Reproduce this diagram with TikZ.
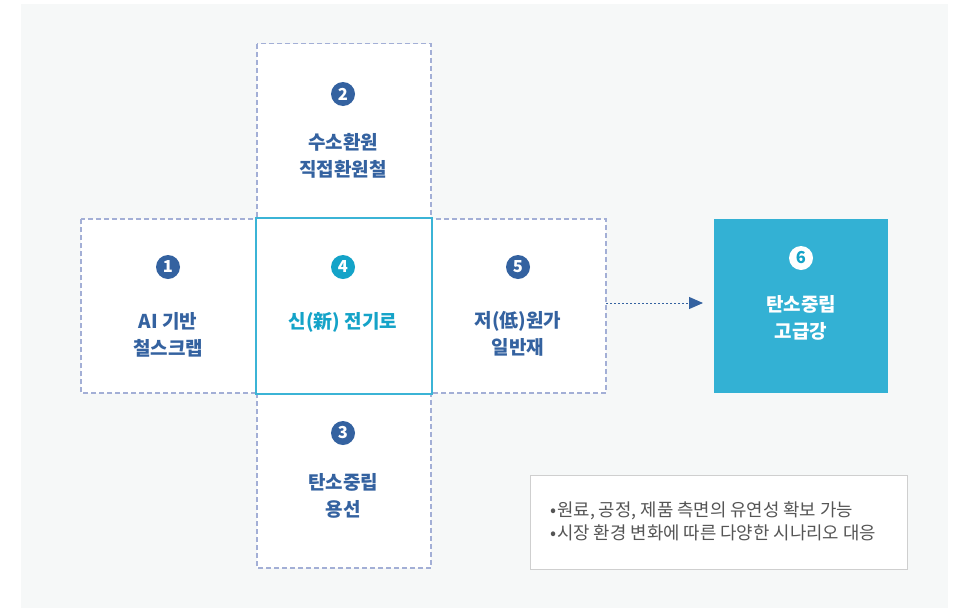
\documentclass[tikz,border=0pt]{standalone}
\usepackage{fontspec}
\setmainfont{Noto Sans CJK KR}
\usetikzlibrary{arrows.meta}
\definecolor{panel}{HTML}{F6F8F8}
\definecolor{dashc}{HTML}{A3AFD6}
\definecolor{navy}{HTML}{3462A0}
\definecolor{cyanline}{HTML}{3BB4D6}
\definecolor{cyantxt}{HTML}{14A3C8}
\definecolor{cyanfill}{HTML}{33B1D4}
\definecolor{notegray}{HTML}{555555}
\definecolor{noteline}{HTML}{CFCFCF}
\tikzset{
  dashbox/.style={draw=dashc, line width=1.1pt, dash pattern=on 5pt off 3pt, fill=white},
  numcirc/.style={circle, fill=navy, text=white, minimum size=24pt, inner sep=0pt, font=\fontsize{16.5}{16.5}\selectfont\bfseries},
  lbl/.style={text=navy, align=center, font=\fontsize{19}{27}\selectfont\bfseries},
}
\begin{document}
\begin{tikzpicture}[x=1pt,y=-1pt]
\useasboundingbox (0,0) rectangle (965,608);
\fill[panel] (21,4) rectangle (948,608);
% dashed boxes
\draw[dashbox] (81,219) rectangle (257,393);
\draw[dashbox] (257,43.5) rectangle (431,218);
\draw[dashbox] (257,393) rectangle (431,568);
\draw[dashbox] (431,219) rectangle (606,393);
\draw[draw=cyanline, line width=2pt, fill=white] (255.5,218) rectangle (432,393.5);
\fill[cyanfill] (714,219) rectangle (888,393);
% note box
\draw[draw=noteline, line width=1pt, fill=white] (530,475) rectangle (907,569);
% nodes
\node[numcirc] (c2) at (343,94) {2};
\node[lbl] (t2) at (343,156) {수소환원\\직접환원철};
\node[numcirc] (c1) at (168,267) {1};
\node[lbl] (t1) at (168,335) {AI 기반\\철스크랩};
\node[numcirc, fill=cyantxt] (c4) at (343,267) {4};
\node[lbl, text=cyantxt] (t4) at (343,322) {신(新) 전기로};
\node[numcirc] (c5) at (518,267) {5};
\node[lbl] (t5) at (518,334) {저(低)원가\\일반재};
\node[numcirc] (c3) at (343,433) {3};
\node[lbl] (t3) at (343,496) {탄소중립\\용선};
\node[numcirc, fill=white, text=cyantxt] (c6) at (801,258) {6};
\node[lbl, text=white] (t6) at (801,318) {탄소중립\\고급강};
\coordinate (b5) at (606,303);
\coordinate (b6) at (703,303);
\draw[navy, line width=1pt, dash pattern=on 2pt off 2pt, -{Triangle[length=14pt,width=12pt]}] (b5) -- (b6);
\node[anchor=west, text=notegray, align=left, font=\fontsize{17.8}{23}\selectfont, inner sep=0pt] (note) at (550,521.5) {•\kern1pt 원료, 공정, 제품 측면의 유연성 확보 가능\\•\kern1pt 시장 환경 변화에 따른 다양한 시나리오 대응};
\end{tikzpicture}
\end{document}
